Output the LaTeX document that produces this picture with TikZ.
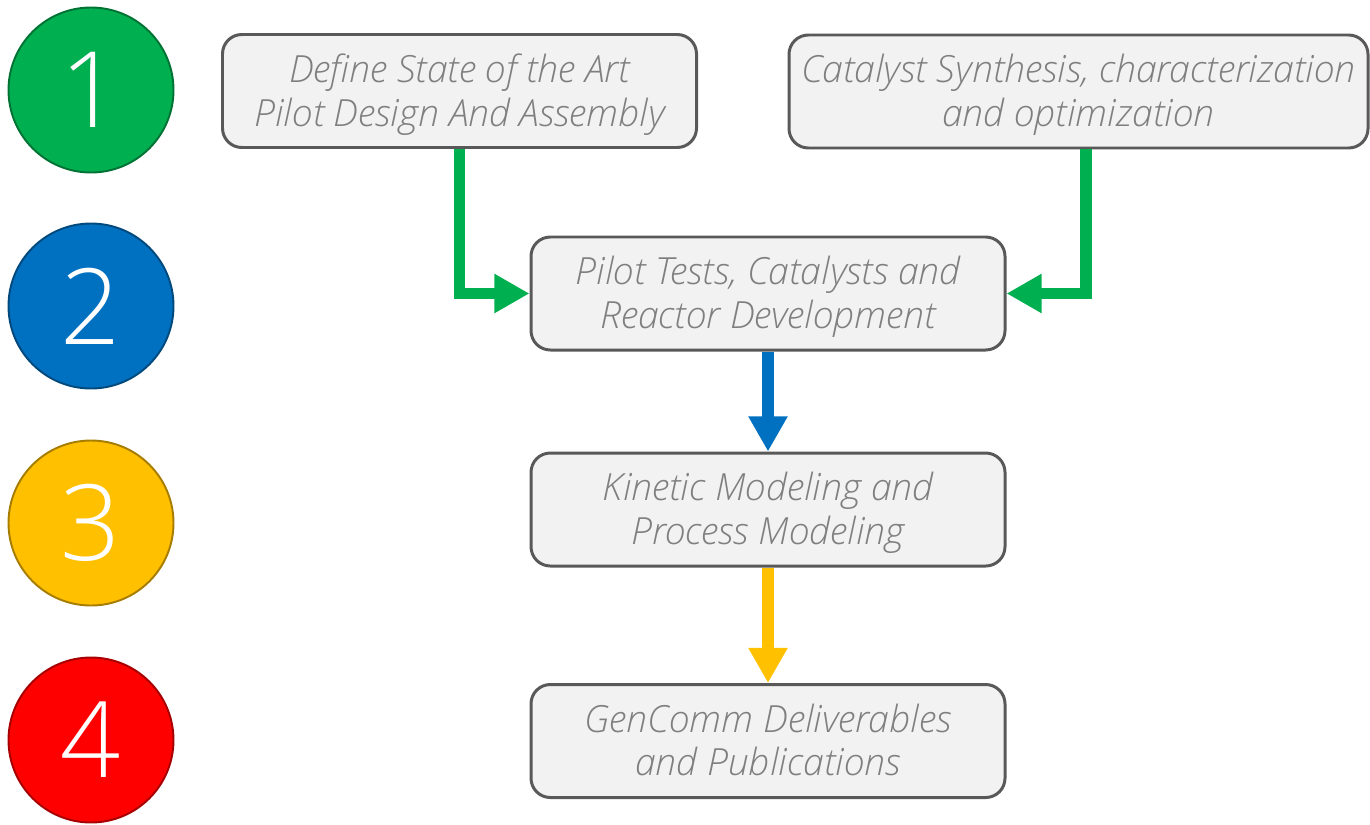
\documentclass[tikz,border=0pt]{standalone}
\usepackage{fontspec}
\setmainfont{Open Sans}[UprightFont=* Light,ItalicFont=* Light Italic]
\usetikzlibrary{arrows.meta}
\definecolor{onegreen}{HTML}{00B050}
\definecolor{twoblue}{HTML}{0070C0}
\definecolor{threeyellow}{HTML}{FFC000}
\definecolor{fourred}{HTML}{FF0000}
\definecolor{boxfill}{HTML}{F2F2F2}
\definecolor{boxline}{HTML}{595959}
\definecolor{boxtext}{HTML}{7F7F7F}
\tikzset{
  num/.style={circle,minimum size=3.3cm,inner sep=0pt,fill=#1,draw=#1!65!black,line width=1.1pt,
    text=white,font=\fontsize{60}{60}\selectfont},
  task/.style={draw=boxline,fill=boxfill,rounded corners=11pt,line width=1.7pt,align=center,
    minimum width=9.48cm,minimum height=2.26cm,text=boxtext,text depth=0.05cm,
    font=\itshape\fontsize{21.3}{25}\selectfont},
  flow/.style={line width=6.8pt,-{Triangle[length=20pt,width=21pt]}}
}
\begin{document}
\begin{tikzpicture}
\useasboundingbox (0,0) rectangle (27.4,-16.48);
\node[num=onegreen] (n1) at (1.82,-1.8) {1};
\node[num=twoblue] (n2) at (1.82,-6.12) {2};
\node[num=threeyellow] (n3) at (1.82,-10.46) {3};
\node[num=fourred] (n4) at (1.82,-14.8) {4};
\node[task] (art) at (9.19,-1.82) {Define State of the Art\\Pilot Design And Assembly};
\node[task,minimum width=11.58cm] (cat) at (21.57,-1.83) {Catalyst Synthesis, characterization\\and optimization};
\node[task] (pilot) at (15.36,-5.87) {Pilot Tests, Catalysts and\\Reactor Development};
\node[task] (kin) at (15.36,-10.19) {Kinetic Modeling and\\Process Modeling};
\node[task] (pub) at (15.36,-14.82) {GenComm Deliverables\\and Publications};
\draw[flow,onegreen] (art.south) |- (pilot.west);
\draw[flow,onegreen] ([xshift=4pt]cat.south) |- (pilot.east);
\draw[flow,twoblue] (pilot) -- (kin);
\draw[flow,threeyellow] (kin) -- (pub);
\end{tikzpicture}
\end{document}
